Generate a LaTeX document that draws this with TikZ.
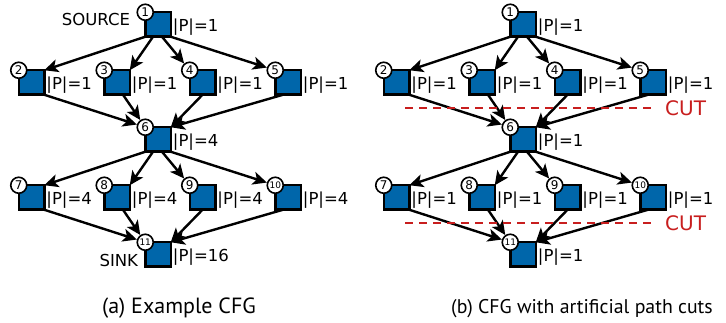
\documentclass[tikz,border=0pt]{standalone}
\usepackage{fontspec}
\setmainfont{DejaVu Sans}
\newfontfamily\capfont{PT Sans}
\usetikzlibrary{arrows.meta,calc}
\definecolor{blockblue}{RGB}{0,102,170}
\definecolor{cutred}{RGB}{200,30,30}

\tikzset{
  block/.style={draw=black, line width=2.5pt, fill=blockblue,
    minimum width=25.5pt, minimum height=24.5pt, inner sep=0pt, outer sep=0pt},
  idx/.style={circle, draw=black, line width=1.6pt, fill=white,
    minimum size=16pt, inner sep=0pt, font=\fontsize{12}{12}\selectfont},
  idxs/.style={idx, font=\fontsize{9}{9}\selectfont},
  count/.style={anchor=west, inner sep=0pt, font=\fontsize{16.5}{17}\selectfont},
  flow/.style={-{Stealth[length=14pt,width=13pt,inset=3.5pt]}, line width=2.4pt},
  cutline/.style={draw=cutred, dash pattern=on 8pt off 6pt, line width=2pt},
  cutlabel/.style={text=cutred, anchor=west, inner sep=0pt, font=\fontsize{20}{20}\selectfont},
  caption/.style={anchor=base, inner sep=0pt, font=\capfont\fontsize{19.8}{21}\selectfont},
}

% One control-flow graph: #1 name prefix, #2 horizontal offset,
% #3..#7 path counts of node 1, nodes 2-5, node 6, nodes 7-10, node 11
\newcommand\cfgpanel[7]{%
\begin{scope}[xshift=#2pt]
  % blocks
  \node[block] (#1n1)  at (158,24.5)   {};
  \node[block] (#1n2)  at (31.5,82.5)  {};
  \node[block] (#1n3)  at (117,82.5)   {};
  \node[block] (#1n4)  at (202.5,82.5) {};
  \node[block] (#1n5)  at (288,82.5)   {};
  \node[block] (#1n6)  at (158,139.5)  {};
  \node[block] (#1n7)  at (31.5,197.5) {};
  \node[block] (#1n8)  at (117,197.5)  {};
  \node[block] (#1n9)  at (202.5,197.5){};
  \node[block] (#1n10) at (288,197.5)  {};
  \node[block] (#1n11) at (158,254.5)  {};
  % block numbers
  \node[idx]  (#1c1)  at (#1n1.north west)  {1};
  \node[idx]  (#1c2)  at (#1n2.north west)  {2};
  \node[idx]  (#1c3)  at (#1n3.north west)  {3};
  \node[idx]  (#1c4)  at (#1n4.north west)  {4};
  \node[idx]  (#1c5)  at (#1n5.north west)  {5};
  \node[idx]  (#1c6)  at (#1n6.north west)  {6};
  \node[idx]  (#1c7)  at (#1n7.north west)  {7};
  \node[idx]  (#1c8)  at (#1n8.north west)  {8};
  \node[idx]  (#1c9)  at (#1n9.north west)  {9};
  \node[idxs] (#1c10) at (#1n10.north west) {10};
  \node[idxs] (#1c11) at (#1n11.north west) {11};
  % path counts
  \node[count] (#1p1)  at ($(#1n1.east)+(2,3)$)  {|P|=#3};
  \node[count] (#1p2)  at ($(#1n2.east)+(2,3)$)  {|P|=#4};
  \node[count] (#1p3)  at ($(#1n3.east)+(2,3)$)  {|P|=#4};
  \node[count] (#1p4)  at ($(#1n4.east)+(2,3)$)  {|P|=#4};
  \node[count] (#1p5)  at ($(#1n5.east)+(2,3)$)  {|P|=#4};
  \node[count] (#1p6)  at ($(#1n6.east)+(2,3)$)  {|P|=#5};
  \node[count] (#1p7)  at ($(#1n7.east)+(2,3)$)  {|P|=#6};
  \node[count] (#1p8)  at ($(#1n8.east)+(2,3)$)  {|P|=#6};
  \node[count] (#1p9)  at ($(#1n9.east)+(2,3)$)  {|P|=#6};
  \node[count] (#1p10) at ($(#1n10.east)+(2,3)$) {|P|=#6};
  \node[count] (#1p11) at ($(#1n11.east)+(2,3)$) {|P|=#7};
  % edges: fan out from 1, join at 6
  \draw[flow] (#1n1.south west) -- (#1n2.north east);
  \draw[flow] ($(#1n1.south)+(-5,0)$) -- (#1n3.north east);
  \draw[flow] ($(#1n1.south)+(4,0)$) -- (#1c4);
  \draw[flow] (#1n1.south east) -- (#1c5);
  \draw[flow] (#1n2.south east) -- (#1c6);
  \draw[flow] ($(#1n3.south)+(6,0)$) -- (#1c6);
  \draw[flow] (#1n4.south) -- (#1n6.north east);
  \draw[flow] ($(#1n5.south)+(-5,0)$) -- (#1n6.north east);
  % edges: fan out from 6, join at 11
  \draw[flow] (#1n6.south west) -- (#1n7.north east);
  \draw[flow] ($(#1n6.south)+(-5,0)$) -- (#1n8.north east);
  \draw[flow] ($(#1n6.south)+(4,0)$) -- (#1c9);
  \draw[flow] (#1n6.south east) -- (#1c10);
  \draw[flow] (#1n7.south east) -- (#1c11);
  \draw[flow] ($(#1n8.south)+(6,0)$) -- (#1c11);
  \draw[flow] (#1n9.south) -- (#1n11.north east);
  \draw[flow] ($(#1n10.south)+(-5,0)$) -- (#1n11.north east);
\end{scope}}

\begin{document}
\begin{tikzpicture}[x=1pt, y=-1pt]
  \useasboundingbox (0,0) rectangle (726,323);

  % (a) plain CFG
  \cfgpanel{a}{0}{1}{1}{4}{4}{16}
  \node[anchor=east, inner sep=0pt, font=\fontsize{16.5}{17}\selectfont]
    (src) at ($(an1.west)+(-15,-5)$) {SOURCE};
  \node[anchor=east, inner sep=0pt, font=\fontsize{16.5}{17}\selectfont]
    (snk) at ($(an11.west)+(-7,6)$) {SINK};
  \node[caption, font=\capfont\fontsize{22}{23}\selectfont] (capa) at (179,313) {(a) Example CFG};

  % (b) CFG with the two cuts
  \cfgpanel{b}{365}{1}{1}{1}{1}{1}
  \coordinate (cutA1) at (405,108);
  \coordinate (cutA2) at (653,108);
  \coordinate (cutB1) at (405,223);
  \coordinate (cutB2) at (653,223);
  \draw[cutline] (cutA1) -- (cutA2);
  \draw[cutline] (cutB1) -- (cutB2);
  \node[cutlabel] (cuta) at (665,108) {CUT};
  \node[cutlabel] (cutb) at (665,223) {CUT};
  \node[caption] (capb) at (582,313) {(b) CFG with artificial path cuts};
\end{tikzpicture}
\end{document}
